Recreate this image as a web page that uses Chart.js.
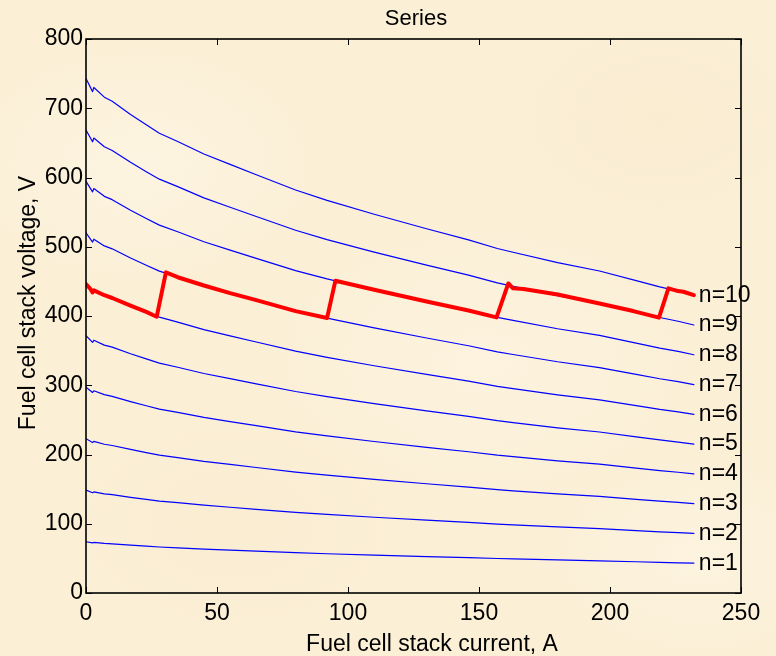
<!DOCTYPE html>
<html>
<head>
<meta charset="utf-8">
<script src="https://cdn.jsdelivr.net/npm/chart.js@4.4.1/dist/chart.umd.min.js"></script>
<style>
  html, body { margin: 0; padding: 0; }
  body {
    width: 776px; height: 656px; overflow: hidden;
    background-color: #fbefd6;
    background-image:
      radial-gradient(ellipse 180px 120px at 18% 25%, rgba(255, 250, 236, 0.5), transparent),
      radial-gradient(ellipse 220px 140px at 62% 55%, rgba(255, 248, 232, 0.45), transparent),
      radial-gradient(ellipse 160px 110px at 85% 18%, rgba(244, 230, 200, 0.35), transparent),
      radial-gradient(ellipse 200px 130px at 30% 80%, rgba(246, 232, 202, 0.35), transparent),
      radial-gradient(ellipse 150px 100px at 90% 85%, rgba(255, 249, 234, 0.45), transparent);
  }
</style>
</head>
<body>
<canvas id="chart" width="776" height="656"></canvas>
<script>
// Stack current (A), shared by all blue curves
const currentA = [0, 2.5, 3, 7, 10, 17, 23, 28, 35, 45, 55, 65, 80, 92, 110, 130, 146, 157, 163, 180, 196, 210, 219, 226, 232];

// Stack voltage (V) for n cells in series
const voltageN1  = [74, 72.4, 73, 71.6, 71, 69.1, 67.6, 66.4, 65.2, 63.4, 61.9, 60.4, 58.2, 56.7, 54.7, 52.6, 51, 49.8, 49.2, 47.7, 46.5, 45.1, 44.2, 43.6, 43];
const voltageN2  = [148.6, 144.8, 146, 143.2, 142, 138.2, 135.2, 132.8, 130.4, 126.8, 123.8, 120.8, 116.4, 113.4, 109.4, 105.2, 102, 99.5, 98.4, 95.4, 93, 90.2, 88.4, 87.2, 86];
const voltageN3  = [222.9, 217.2, 219, 214.8, 213, 207.3, 202.8, 199.2, 195.6, 190.2, 185.7, 181.2, 174.6, 170.1, 164.1, 157.8, 153, 149.3, 147.6, 143.1, 139.5, 135.3, 132.6, 130.8, 129];
const voltageN4  = [297.2, 289.6, 292, 286.4, 284, 276.4, 270.4, 265.6, 260.8, 253.6, 247.6, 241.6, 232.8, 226.8, 218.8, 210.4, 204, 199, 196.8, 190.8, 186, 180.4, 176.8, 174.4, 172];
const voltageN5  = [371.5, 362, 365, 358, 355, 345.5, 338, 332, 326, 317, 309.5, 302, 291, 283.5, 273.5, 263, 255, 248.8, 246, 238.5, 232.5, 225.5, 221, 218, 215];
const voltageN6  = [445.8, 434.4, 438, 429.6, 426, 414.6, 405.6, 398.4, 391.2, 380.4, 371.4, 362.4, 349.2, 340.2, 328.2, 315.6, 306, 298.5, 295.2, 286.2, 279, 270.6, 265.2, 261.6, 258];
const voltageN7  = [520.1, 506.8, 511, 501.2, 497, 483.7, 473.2, 464.8, 456.4, 443.8, 433.3, 422.8, 407.4, 396.9, 382.9, 368.2, 357, 348.3, 344.4, 333.9, 325.5, 315.7, 309.4, 305.2, 301];
const voltageN8  = [594.4, 579.2, 584, 572.8, 568, 552.8, 540.8, 531.2, 521.6, 507.2, 495.2, 483.2, 465.6, 453.6, 437.6, 420.8, 408, 398, 393.6, 381.6, 372, 360.8, 353.6, 348.8, 344];
const voltageN9  = [668.7, 651.6, 657, 644.4, 639, 621.9, 608.4, 597.6, 586.8, 570.6, 557.1, 543.6, 523.8, 510.3, 492.3, 473.4, 459, 447.8, 442.8, 429.3, 418.5, 405.9, 397.8, 392.4, 387];
const voltageN10 = [743, 724, 730, 716, 710, 691, 676, 664, 652, 634, 619, 604, 582, 567, 547, 526, 510, 497.5, 492, 477, 465, 451, 442, 436, 430];

const curveLabels = ['n=1', 'n=2', 'n=3', 'n=4', 'n=5', 'n=6', 'n=7', 'n=8', 'n=9', 'n=10'];
const curveVoltages = [voltageN1, voltageN2, voltageN3, voltageN4, voltageN5, voltageN6, voltageN7, voltageN8, voltageN9, voltageN10];

// Operating path (red), switching cells as voltage drops to ~400 V
const redCurrent = [0, 1.5, 2.5, 3, 7, 10, 17, 23, 27, 30.5, 35, 45, 55, 65, 80, 92, 95.2, 110, 130, 146, 156.7, 161.2, 163, 167, 180, 196, 208, 210, 218.7, 222.3, 224, 226, 228, 232];
const redVoltage = [446, 440, 434, 437, 430, 426, 415, 406, 399, 463, 456, 444, 433, 423, 407, 397, 451, 438, 421, 408, 398, 447, 440, 439, 431, 418, 408, 406, 397.6, 440, 438, 436, 435, 430];

const xTicks = [0, 50, 100, 150, 200, 250];
const yTicks = [0, 100, 200, 300, 400, 500, 600, 700, 800];

const FONT = '"Liberation Sans", Arial, sans-serif';

function toPoints(xs, ys) {
    return xs.map((x, i) => ({ x: x, y: ys[i] }));
}

const datasets = [{
    label: 'Operating',
    data: toPoints(redCurrent, redVoltage),
    borderColor: '#ff0000',
    borderWidth: 4,
    order: 0
}];
curveVoltages.forEach((v, i) => {
    datasets.push({
        label: curveLabels[i],
        data: toPoints(currentA, v),
        borderColor: '#0000ff',
        borderWidth: 1.2,
        order: 1
    });
});

// Box, inward ticks, titles and curve labels (MATLAB-style)
const framePlugin = {
    id: 'frame',
    afterDatasetsDraw(chart) {
        const { ctx, chartArea: a, scales } = chart;
        ctx.save();
        ctx.strokeStyle = '#000';
        ctx.lineWidth = 1;
        xTicks.forEach(t => {
            const px = Math.round(scales.x.getPixelForValue(t)) + 0.5;
            ctx.beginPath();
            ctx.moveTo(px, a.bottom); ctx.lineTo(px, a.bottom - 6);
            ctx.moveTo(px, a.top); ctx.lineTo(px, a.top + 6);
            ctx.stroke();
        });
        yTicks.forEach(t => {
            const py = Math.round(scales.y.getPixelForValue(t)) + 0.5;
            ctx.beginPath();
            ctx.moveTo(a.left, py); ctx.lineTo(a.left + 6, py);
            ctx.moveTo(a.right, py); ctx.lineTo(a.right - 6, py);
            ctx.stroke();
        });
        ctx.lineWidth = 1.6;
        ctx.strokeRect(a.left, a.top, a.right - a.left, a.bottom - a.top);

        ctx.fillStyle = '#000';
        ctx.font = '23px ' + FONT;
        ctx.textAlign = 'left';
        ctx.textBaseline = 'middle';
        curveVoltages.forEach((v, i) => {
            const px = scales.x.getPixelForValue(currentA[currentA.length - 1]) + 5;
            const py = scales.y.getPixelForValue(v[v.length - 1]);
            ctx.fillText(curveLabels[i], px, py);
        });

        ctx.textAlign = 'center';
        ctx.textBaseline = 'alphabetic';
        ctx.font = '22px ' + FONT;
        ctx.fillText('Series', 416, 25);
        ctx.font = '23px ' + FONT;
        ctx.fillText('Fuel cell stack current, A', 432, 651);
        ctx.translate(35, 303);
        ctx.rotate(-Math.PI / 2);
        ctx.fillText('Fuel cell stack voltage, V', 0, 0);
        ctx.restore();
    }
};

new Chart(document.getElementById('chart'), {
    type: 'line',
    data: { datasets: datasets },
    options: {
        responsive: false,
        animation: false,
        devicePixelRatio: 1,
        layout: { padding: { left: 0, right: 35, top: 39, bottom: 0 } },
        elements: { point: { radius: 0 }, line: { tension: 0, borderJoinStyle: 'round', borderCapStyle: 'round' } },
        plugins: { legend: { display: false }, tooltip: { enabled: false } },
        scales: {
            x: {
                type: 'linear', min: 0, max: 250,
                afterFit: s => { s.height = 63; },
                afterBuildTicks: s => { s.ticks = xTicks.map(v => ({ value: v })); },
                grid: { display: false, drawTicks: false },
                border: { display: false },
                ticks: { color: '#000', padding: 7, maxRotation: 0, font: { size: 23, family: FONT } }
            },
            y: {
                type: 'linear', min: 0, max: 800,
                afterFit: s => { s.width = 86; },
                afterBuildTicks: s => { s.ticks = yTicks.map(v => ({ value: v })); },
                grid: { display: false, drawTicks: false },
                border: { display: false },
                ticks: { color: '#000', padding: 3, font: { size: 23, family: FONT } }
            }
        }
    },
    plugins: [framePlugin]
});
</script>
</body>
</html>
